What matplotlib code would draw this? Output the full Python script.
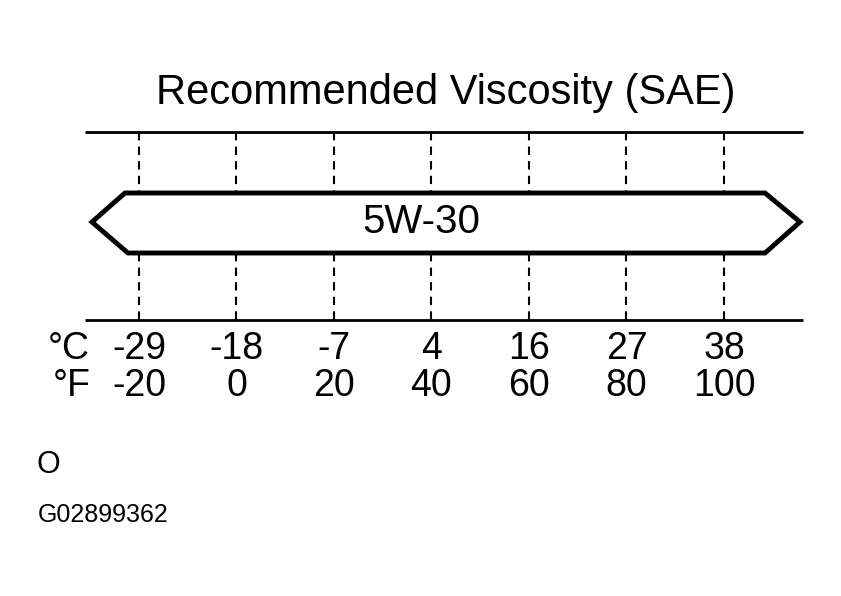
import matplotlib
matplotlib.use("Agg")
import matplotlib.pyplot as plt
from matplotlib.patches import Polygon

plt.rcParams["font.family"] = ["Liberation Sans", "DejaVu Sans"]

temps_f = [-20, 0, 20, 40, 60, 80, 100]
temps_c = [-29, -18, -7, 4, 16, 27, 38]
grade = "5W-30"
grade_range_f = (-20, 100)
title = "Recommended Viscosity (SAE)"

fig = plt.figure(figsize=(8.41, 5.96), dpi=100)
ax = fig.add_axes([0, 0, 1, 1])
# x in degrees F, y in pixels (top = 0)
ax.set_xlim(-48.5, 124.0)
ax.set_ylim(596, 0)
ax.axis("off")

px = 20 / 97.5  # degrees F per pixel

ax.text(43, 93, title, ha="center", va="center", fontsize=30)
ax.hlines([132, 320], -48.5 + 85 * px, -48.5 + 803 * px, color="black", lw=2)

for f in temps_f:
    ax.vlines(f, 132, 193, color="black", lw=1.5, linestyles=(0, (4, 3)))
    ax.vlines(f, 253, 320, color="black", lw=1.5, linestyles=(0, (4, 3)))

lo, hi = grade_range_f
arrow = Polygon([(lo - 47 * px, 222), (lo - 14 * px, 193), (hi + 41 * px, 193),
                 (hi + 76 * px, 222), (hi + 41 * px, 253), (lo - 11 * px, 253)],
                closed=True, fill=False, edgecolor="black", lw=3.5, joinstyle="miter")
ax.add_patch(arrow)
ax.text(38, 222, grade, ha="center", va="center", fontsize=29)

ax.text(-48.5 + 48 * px, 349, "°C", ha="left", va="center", fontsize=27)
ax.text(-48.5 + 53 * px, 386, "°F", ha="left", va="center", fontsize=27)
for f, c in zip(temps_f, temps_c):
    ax.text(f, 349, str(c), ha="center", va="center", fontsize=27)
    ax.text(f, 386, str(f), ha="center", va="center", fontsize=27)

ax.text(-48.5 + 36 * px, 465, "O", ha="left", va="center", fontsize=22)
ax.text(-48.5 + 38 * px, 515, "G02899362", ha="left", va="center", fontsize=18)

fig.savefig("out.png", dpi=100)
